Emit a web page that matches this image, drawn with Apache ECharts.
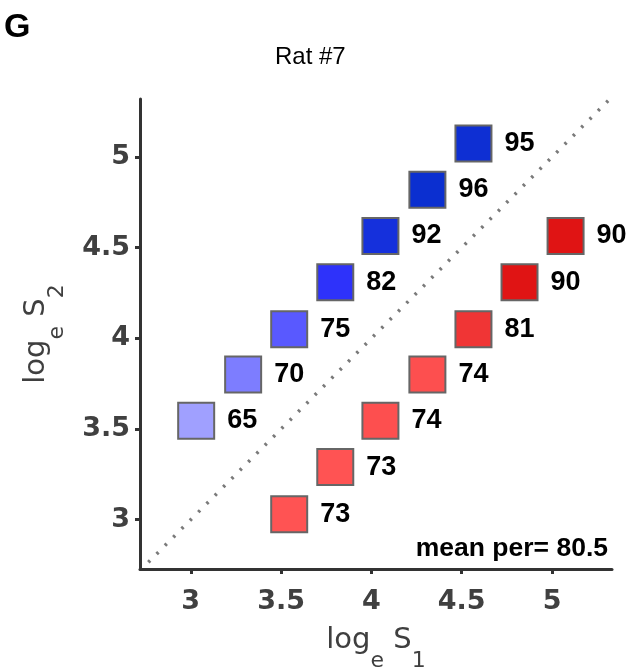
<!DOCTYPE html>
<html>
<head>
<meta charset="utf-8">
<script src="https://cdn.jsdelivr.net/npm/echarts@6/dist/echarts.min.js"></script>
<style>
  html, body { margin: 0; padding: 0; background: #fff; }
  #main { width: 630px; height: 670px; }
</style>
</head>
<body>
<div id="main"></div>
<script>
// data
var blueS1 = [3.03, 3.29, 3.545, 3.80, 4.05, 4.31, 4.565];
var blueS2 = [3.545, 3.80, 4.05, 4.31, 4.565, 4.82, 5.075];
var bluePer = [65, 70, 75, 82, 92, 96, 95];

var redS1 = [3.545, 3.80, 4.05, 4.31, 4.565, 4.82, 5.075];
var redS2 = [3.03, 3.29, 3.545, 3.80, 4.05, 4.31, 4.565];
var redPer = [73, 73, 74, 74, 81, 90, 90];

var xTicks = [3, 3.5, 4, 4.5, 5];
var yTicks = [3, 3.5, 4, 4.5, 5];
var diagEnds = [2.765, 5.32];   // y = x reference line
var meanPer = '80.5';

function toPoints(xs, ys, vs) {
  var res = [];
  for (var i = 0; i < xs.length; i++) {
    res.push([xs[i], ys[i], vs[i]]);
  }
  return res;
}

var axisFont = 'DejaVu Sans';
var nameRich = {
  m: { fontFamily: axisFont, fontSize: 29, color: '#3f3f3f' },
  s: { fontFamily: axisFont, fontSize: 22, color: '#3f3f3f', padding: [41, 0, 0, 0] }
};

var chart = echarts.init(document.getElementById('main'));

var pointLabel = {
  show: true,
  position: 'right',
  distance: 12,
  fontFamily: 'Liberation Sans',
  fontWeight: 'bold',
  fontSize: 27,
  color: '#000',
  formatter: function (p) { return p.value[2]; }
};

var option = {
  backgroundColor: '#fff',
  animation: false,
  title: [{
    text: 'G',
    left: 4,
    top: 11,
    padding: 0,
    textStyle: { fontFamily: 'Liberation Sans', fontWeight: 'bold', fontSize: 34, color: '#000' }
  }, {
    text: 'Rat #7',
    left: 275,
    top: 45,
    padding: 0,
    textStyle: { fontFamily: 'Liberation Sans', fontWeight: 'normal', fontSize: 24, color: '#000' }
  }, {
    text: 'mean per= ' + meanPer,
    right: 22,
    top: 535,
    padding: 0,
    textStyle: { fontFamily: 'Liberation Sans', fontWeight: 'bold', fontSize: 26.5, color: '#000' }
  }],
  grid: { left: 140, right: 18, top: 99, bottom: 101, outerBoundsMode: 'none', containLabel: false },
  xAxis: {
    type: 'value',
    min: 2.719,
    max: 5.332,
    name: '{m|log}{s|e}{m| S}{s|1}',
    nameLocation: 'middle',
    nameGap: 40,
    nameTextStyle: { rich: nameRich },
    axisLine: { show: true, onZero: false, lineStyle: { color: '#333', width: 3 } },
    axisTick: { show: true, length: 5, customValues: xTicks, lineStyle: { color: '#333', width: 3 } },
    axisLabel: {
      customValues: xTicks,
      margin: 19,
      fontFamily: axisFont,
      fontWeight: 'bold',
      fontSize: 27,
      color: '#404040',
      formatter: function (v) { return String(v); }
    },
    splitLine: { show: false }
  },
  yAxis: {
    type: 'value',
    min: 2.728,
    max: 5.32,
    name: '{m|log}{s|e}{m| S}{s|2}',
    nameLocation: 'middle',
    nameRotate: 90,
    nameGap: 72,
    nameTextStyle: { rich: nameRich },
    axisLine: { show: true, onZero: false, lineStyle: { color: '#333', width: 3 } },
    axisTick: { show: true, length: 5, customValues: yTicks, lineStyle: { color: '#333', width: 3 } },
    axisLabel: {
      customValues: yTicks,
      margin: 10,
      fontFamily: axisFont,
      fontWeight: 'bold',
      fontSize: 27,
      color: '#404040',
      formatter: function (v) { return String(v); }
    },
    splitLine: { show: false }
  },
  visualMap: [{
    show: false,
    type: 'continuous',
    seriesIndex: 0,
    dimension: 2,
    min: 65,
    max: 96,
    inRange: { color: ['#a0a0ff', '#3232ff', '#0b2fd0'] }
  }, {
    show: false,
    type: 'continuous',
    seriesIndex: 1,
    dimension: 2,
    min: 73,
    max: 90,
    inRange: { color: ['#ff5353', '#e01414'] }
  }],
  series: [{
    name: 'blue',
    type: 'scatter',
    symbol: 'rect',
    symbolSize: 36,
    itemStyle: { borderColor: '#666', borderWidth: 2, opacity: 1 },
    label: pointLabel,
    data: toPoints(blueS1, blueS2, bluePer),
    z: 3
  }, {
    name: 'red',
    type: 'scatter',
    symbol: 'rect',
    symbolSize: 36,
    itemStyle: { borderColor: '#666', borderWidth: 2, opacity: 1 },
    label: pointLabel,
    data: toPoints(redS1, redS2, redPer),
    z: 3
  }, {
    name: 'diag',
    type: 'line',
    symbol: 'none',
    silent: true,
    lineStyle: { color: '#7a7a7a', width: 3.5, type: [2.5, 9.3] },
    data: [[diagEnds[0], diagEnds[0]], [diagEnds[1], diagEnds[1]]],
    z: 2
  }]
};

chart.setOption(option);
</script>
</body>
</html>
